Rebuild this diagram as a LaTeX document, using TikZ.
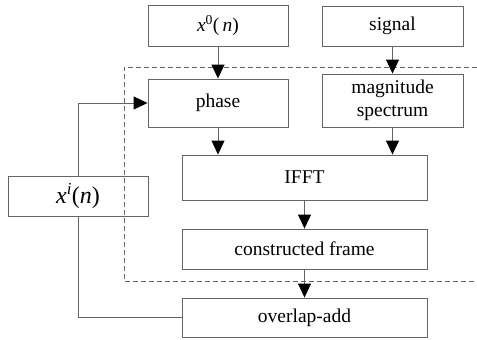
\documentclass[tikz,border=0pt]{standalone}
\usepackage{fontspec}
\setmainfont{Liberation Serif}
\newfontfamily\tnr{Liberation Serif}
\usetikzlibrary{arrows.meta}
\definecolor{linegray}{RGB}{100,100,100}
\tikzset{
  box/.style={draw=linegray, line width=0.9pt, rectangle, inner sep=0pt, align=center,
    font=\tnr\fontsize{19.5}{21}\selectfont, text=black},
  flow/.style={draw=linegray, line width=0.9pt, -{Triangle[length=14pt,width=13pt,color=black]}},
  plain/.style={draw=linegray, line width=0.9pt},
  frame/.style={draw=linegray, line width=0.8pt, dash pattern=on 5pt off 3pt}
}
\begin{document}
\begin{tikzpicture}[x=1pt,y=-1pt]
\useasboundingbox (0,0) rectangle (477,340);
\node[box, minimum width=140pt, minimum height=41pt] (x0) at (218,25.5) {\textit{x}\textsuperscript{0}(\,\textit{n})};
\node[box, minimum width=141pt, minimum height=40pt] (sig) at (392.5,26) {signal};
\node[box, minimum width=140pt, minimum height=48pt] (ph) at (218,103) {phase};
\node[box, minimum width=141pt, minimum height=53pt, font=\tnr\fontsize{19.5}{23}\selectfont] (mag) at (392.5,100.5) {magnitude\\spectrum};
\node[box, minimum width=245pt, minimum height=45pt] (ifft) at (304.5,177.5) {IFFT};
\node[box, minimum width=245pt, minimum height=40pt] (cons) at (304.5,249) {constructed frame};
\node[box, minimum width=245pt, minimum height=39pt] (olap) at (304.5,317.5) {overlap-add};
\node[box, minimum width=140pt, minimum height=40pt, font=\tnr\fontsize{24}{26}\selectfont] (xi) at (78,196) {\textit{x}\textsuperscript{\textit{i}}(\textit{n})};
\coordinate (dtr) at (477,67);
\coordinate (dtl) at (124,67);
\coordinate (dbl) at (124,281);
\coordinate (dbr) at (477,281);
\draw[frame] (dtr) -- (dtl) -- (dbl) -- (dbr);
\draw[flow] (x0) -- (ph);
\draw[flow] (sig) -- (mag);
\draw[flow] (ph.south) -- (ph.south |- ifft.north);
\draw[flow] (mag.south) -- (mag.south |- ifft.north);
\draw[flow] (ifft.south -| cons.north) -- (cons.north);
\draw[flow] (cons) -- (olap);
\draw[flow] (xi.north) |- (ph.west);
\draw[plain] (xi.south) |- (olap.west);
\end{tikzpicture}
\end{document}
